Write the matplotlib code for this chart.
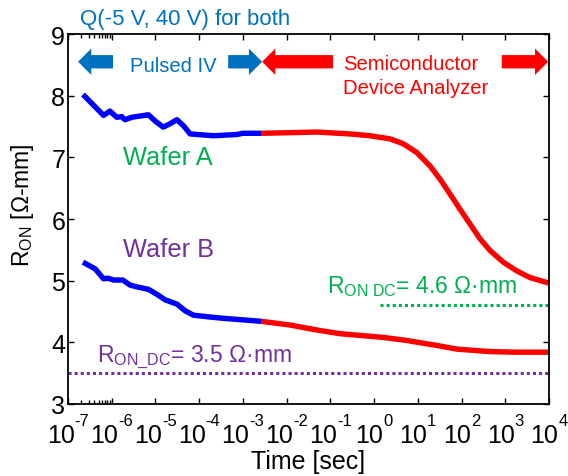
import matplotlib
matplotlib.use("Agg")
import matplotlib.pyplot as plt
from matplotlib.patches import FancyArrowPatch, ArrowStyle
from matplotlib.ticker import FixedLocator, NullFormatter
from matplotlib.transforms import offset_copy

plt.rcParams["font.family"] = ["Liberation Sans", "DejaVu Sans"]
plt.rcParams["mathtext.fontset"] = "custom"
plt.rcParams["mathtext.rm"] = "Liberation Sans"
plt.rcParams["mathtext.it"] = "Liberation Sans:italic"
plt.rcParams["mathtext.bf"] = "Liberation Sans:bold"

# ---- data: time in seconds, R_ON in ohm-mm ----
a_pulsed_t = [2.2e-7, 6.5e-7, 9.1e-7, 1.3e-6, 1.7e-6, 2.0e-6, 2.9e-6, 4.5e-6, 6.9e-6,
              9.8e-6, 1.5e-5, 2.1e-5, 3.1e-5, 4.4e-5, 6.2e-5, 2.1e-4, 7.2e-4, 1.0e-3, 2.7e-3]
a_pulsed_r = [8.02, 7.68, 7.75, 7.65, 7.66, 7.61, 7.65, 7.67, 7.69,
              7.59, 7.49, 7.54, 7.61, 7.51, 7.38, 7.35, 7.37, 7.39, 7.39]

a_sda_t = [2.7e-3, 1.2e-2, 4.9e-2, 0.28, 0.805, 2.31, 4.64, 9.4, 19, 32, 54, 92,
           156, 264, 447, 900, 1820, 3670, 1e4]
a_sda_r = [7.39, 7.40, 7.41, 7.38, 7.35, 7.30, 7.22, 7.08, 6.86, 6.65, 6.41, 6.16,
           5.92, 5.68, 5.49, 5.30, 5.16, 5.05, 4.96]

b_pulsed_t = [2.2e-7, 4.2e-7, 6.5e-7, 8.3e-7, 1.1e-6, 1.8e-6, 2.6e-6, 3.7e-6, 6.9e-6,
              1.07e-5, 1.66e-5, 3.1e-5, 4.8e-5, 7.4e-5, 1.8e-4, 3.5e-4, 1.2e-3, 2.7e-3]
b_pulsed_r = [5.30, 5.19, 5.03, 5.04, 5.01, 5.01, 4.93, 4.90, 4.86,
              4.78, 4.69, 4.62, 4.51, 4.44, 4.41, 4.39, 4.36, 4.34]

b_sda_t = [2.7e-3, 1.2e-2, 4.9e-2, 0.166, 1.62, 5.6, 27, 78, 447, 1820, 1e4]
b_sda_r = [4.34, 4.28, 4.20, 4.14, 4.08, 4.03, 3.95, 3.89, 3.85, 3.84, 3.84]

ron_dc_a = 4.6
ron_dc_b = 3.5

x_exponents = [-7, -6, -5, -4, -3, -2, -1, 0, 1, 2, 3, 4]
y_ticks = [3, 4, 5, 6, 7, 8, 9]

BLUE_TXT = "#0070C0"
GREEN = "#00B050"
PURPLE = "#7030A0"
LINE_BLUE = "#0000FF"
LINE_RED = "#FF0000"

fig = plt.figure(figsize=(5.68, 4.77), dpi=100)
ax = fig.add_axes([68 / 568, 72 / 477, 481 / 568, 370 / 477])
ax.set_xscale("log")
ax.set_xlim(1e-7, 1e4)
ax.set_ylim(3, 9)

# measured curves
lw = 3.9
kw = dict(lw=lw, solid_capstyle="butt", solid_joinstyle="round")
ax.plot(a_pulsed_t, a_pulsed_r, color=LINE_BLUE, **kw)
ax.plot(b_pulsed_t, b_pulsed_r, color=LINE_BLUE, **kw)
ax.plot(a_sda_t, a_sda_r, color=LINE_RED, **kw)
ax.plot(b_sda_t, b_sda_r, color=LINE_RED, **kw)

# DC reference levels
ax.plot([1.35, 1e4], [ron_dc_a, ron_dc_a], color=GREEN, lw=2.2, ls=(0, (1, 1)))
ax.plot([1e-7, 1e4], [ron_dc_b, ron_dc_b], color=PURPLE, lw=2.2, ls=(0, (1, 1)))

# axes styling
for s in ax.spines.values():
    s.set_linewidth(1.3)
x_ticks = [10.0 ** e for e in x_exponents]
ax.xaxis.set_major_locator(FixedLocator(x_ticks))
ax.xaxis.set_major_formatter(NullFormatter())
ax.xaxis.set_minor_locator(FixedLocator([k * 1e-7 for k in range(2, 10)]))
ax.xaxis.set_minor_formatter(NullFormatter())
ax.yaxis.set_major_locator(FixedLocator(y_ticks))
ax.tick_params(which="both", direction="in", top=True, right=True, width=1.0)
ax.tick_params(which="major", length=4.5)
ax.tick_params(which="minor", length=3)
ax.tick_params(axis="y", labelsize=18, pad=2)

# power-of-ten tick labels with a small raised exponent
xt = ax.get_xaxis_transform()
for t, e in zip(x_ticks, x_exponents):
    sup = "-%d" % abs(e) if e < 0 else "%d" % e
    split = 4.7 if e < 0 else 6.7
    ax.text(t, 0, "10", fontsize=18, ha="right", va="baseline",
            transform=offset_copy(xt, fig=fig, x=split, y=-27.4, units="points"))
    ax.text(t, 0, sup, fontsize=12, ha="left", va="baseline",
            transform=offset_copy(xt, fig=fig, x=split, y=-14.8, units="points"))

ax.set_xlabel("Time [sec]", fontsize=18)
ax.xaxis.set_label_coords(0.5, -0.122)
ax.xaxis.label.set_va("top")
ax.set_ylabel(r"R$_{\mathrm{ON}}$ [Ω-mm]", fontsize=16.5)
ax.yaxis.set_label_coords(-0.067, 0.54)

# annotations
fig.text(80 / 568, 1 - 25 / 477, "Q(-5 V, 40 V) for both", color=BLUE_TXT,
         fontsize=16, ha="left", va="baseline")

ax.text(2.6e-6, 8.40, "Pulsed IV", color=BLUE_TXT, fontsize=14.6, ha="left", va="baseline")
ax.text(0.195, 8.43, "Semiconductor", color=LINE_RED, fontsize=14.6, ha="left", va="baseline")
ax.text(0.195, 8.04, "Device Analyzer", color=LINE_RED, fontsize=14.6, ha="left", va="baseline")
ax.text(1.8e-6, 6.89, "Wafer A", color=GREEN, fontsize=18.3, ha="left", va="baseline")
ax.text(1.8e-6, 5.40, "Wafer B", color=PURPLE, fontsize=18.3, ha="left", va="baseline")
ax.text(0.083, 4.81, r"R$_{\mathrm{ON\ DC}}$= 4.6 Ω·mm", color=GREEN, fontsize=16.5,
        ha="left", va="baseline")
ax.text(4.6e-7, 3.70, r"R$_{\mathrm{ON\_DC}}$= 3.5 Ω·mm", color=PURPLE, fontsize=16.5,
        ha="left", va="baseline")

arrow_y = 8.55
style = ArrowStyle.Simple(head_length=9.5, head_width=19, tail_width=9.6)
arrows = [
    ((1.07e-6, 1.7e-7), BLUE_TXT),
    ((4.6e-4, 2.75e-3), BLUE_TXT),
    ((0.115, 2.75e-3), LINE_RED),
    ((830, 9.6e3), LINE_RED),
]
for (x0, x1), c in arrows:
    ax.add_patch(FancyArrowPatch((x0, arrow_y), (x1, arrow_y), arrowstyle=style,
                                 mutation_scale=1, color=c, shrinkA=0, shrinkB=0,
                                 lw=0, clip_on=False))

fig.savefig("out.png", dpi=100)
